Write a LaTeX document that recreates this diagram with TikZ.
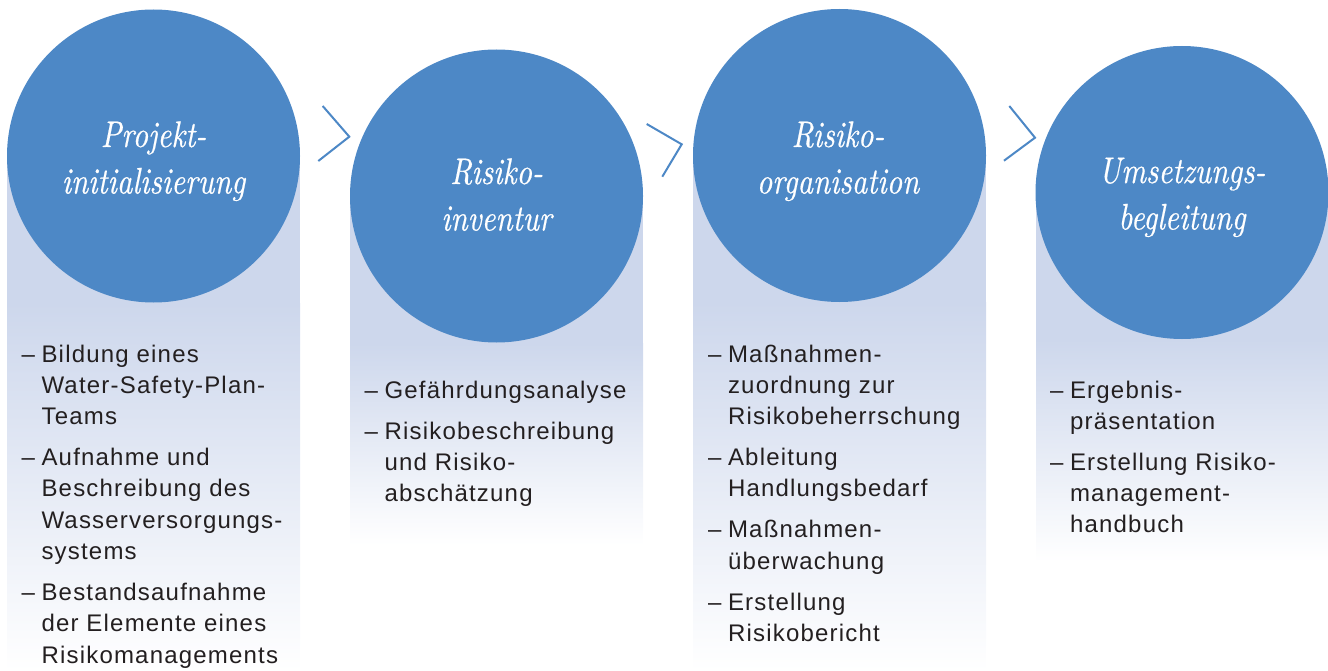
\documentclass[tikz,border=0pt]{standalone}
\usepackage{fontspec}
\newfontfamily\titlefont[FakeStretch=0.82,FakeBold=0.5]{lmroman10-italic.otf}
\newfontfamily\listfont[LetterSpace=5]{Liberation Sans}
\definecolor{stageblue}{RGB}{77,136,198}
\definecolor{panel}{RGB}{205,215,236}
\definecolor{ink}{RGB}{35,31,32}

\tikzset{
  stage/.style={circle, fill=stageblue, minimum size=293pt, inner sep=0pt},
  title/.style={anchor=base, text=white, inner sep=0pt,
    font=\titlefont\fontsize{37}{46.5}\selectfont},
  items/.style={anchor=base west, text=ink, inner sep=0pt,
    font=\listfont\fontsize{24}{31.3}\selectfont},
  chevron/.style={draw=stageblue, line width=2pt},
}
\newcommand{\itemgap}{\\[9.7pt]}

\begin{document}
\begin{tikzpicture}[x=1pt, y=-1pt]
  \useasboundingbox (0,0) rectangle (1328,671);

  % background panels: solid behind the circle, fading below it
  \fill[panel] (7,156) rectangle (300,303);
  \shade[top color=panel, bottom color=white] (7,303) rectangle (300,671);
  \fill[panel] (350,196) rectangle (643,343);
  \shade[top color=panel, bottom color=white] (350,343) rectangle (643,545);
  \fill[panel] (693,155.5) rectangle (986,302);
  \shade[top color=panel, bottom color=white] (693,302) rectangle (986,671);
  \fill[panel] (1036,192.5) rectangle (1328,339);
  \shade[top color=panel, bottom color=white] (1036,339) rectangle (1328,562);

  % stage circles
  \node[stage] (s1) at (153.5,156) {};
  \node[stage] (s2) at (496.5,196) {};
  \node[stage] (s3) at (839.5,155.5) {};
  \node[stage] (s4) at (1182,192.5) {};

  % stage titles
  \node[title] (t1) at (153.5,147) {\begin{tabular}[t]{@{}c@{}}Projekt-\\initialisierung\end{tabular}};
  \node[title] (t2) at (496.5,184) {\begin{tabular}[t]{@{}c@{}}Risiko-\\inventur\end{tabular}};
  \node[title] (t3) at (838,147) {\begin{tabular}[t]{@{}c@{}}Risiko-\\organisation\end{tabular}};
  \node[title] (t4) at (1182,183) {\begin{tabular}[t]{@{}c@{}}Umsetzungs-\\begleitung\end{tabular}};

  % chevrons between the stages
  \draw[chevron] (322.7,106) -- (349.3,136.7) -- (318.3,161);
  \draw[chevron] (646.7,124) -- (681.7,144.3) -- (662.3,176.7);
  \draw[chevron] (1009.3,106) -- (1035,137.7) -- (1004,160.7);

  % task lists
  \node[items] (l1) at (21.5,362) {\begin{tabular}[t]{@{}l@{\hspace{6.5pt}}l@{}}
    –& Bildung eines\\
     & Water-Safety-Plan-\\
     & Teams\itemgap
    –& Aufnahme und\\
     & Beschreibung des\\
     & Wasserversorgungs-\\
     & systems\itemgap
    –& Bestandsaufnahme\\
     & der Elemente eines\\
     & Risikomanagements
  \end{tabular}};

  \node[items] (l2) at (364.5,398) {\begin{tabular}[t]{@{}l@{\hspace{6.5pt}}l@{}}
    –& Gefährdungsanalyse\itemgap
    –& Risikobeschreibung\\
     & und Risiko-\\
     & abschätzung
  \end{tabular}};

  \node[items] (l3) at (708,362) {\begin{tabular}[t]{@{}l@{\hspace{6.5pt}}l@{}}
    –& Maßnahmen-\\
     & zuordnung zur\\
     & Risikobeherrschung\itemgap
    –& Ableitung\\
     & Handlungsbedarf\itemgap
    –& Maßnahmen-\\
     & überwachung\itemgap
    –& Erstellung\\
     & Risikobericht
  \end{tabular}};

  \node[items] (l4) at (1050,398) {\begin{tabular}[t]{@{}l@{\hspace{6.5pt}}l@{}}
    –& Ergebnis-\\
     & präsentation\itemgap
    –& Erstellung Risiko-\\
     & management-\\
     & handbuch
  \end{tabular}};
\end{tikzpicture}
\end{document}
